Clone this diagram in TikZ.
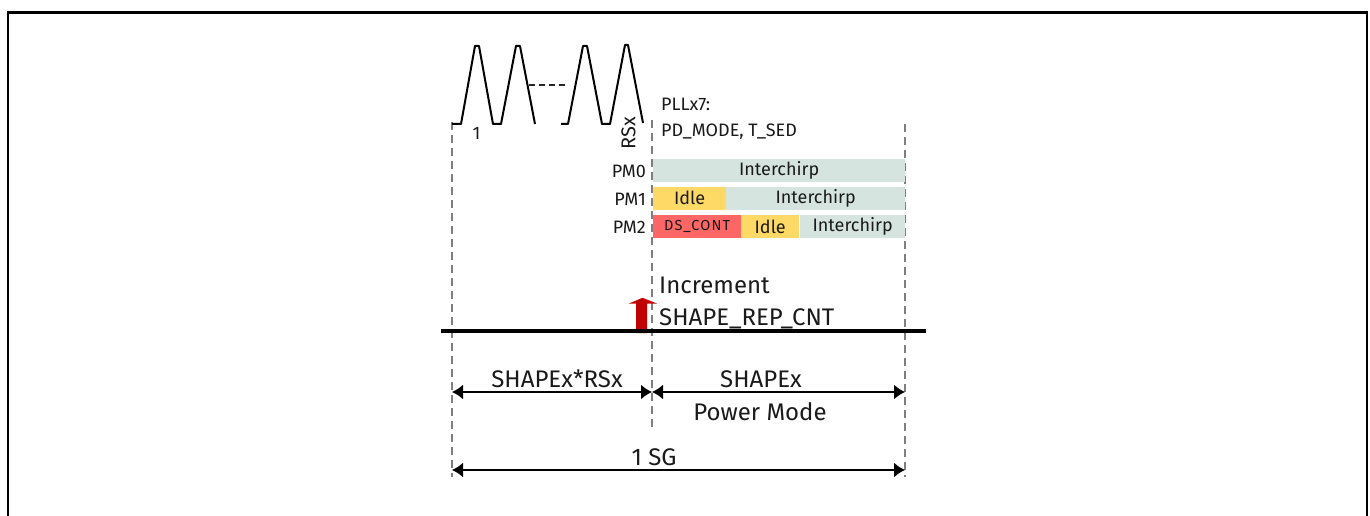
\documentclass[tikz,border=0pt]{standalone}
\usepackage{fontspec}
\setmainfont{Fira Sans}
\newfontfamily\dsfont[LetterSpace=8]{Fira Sans}
\usetikzlibrary{arrows.meta}
\definecolor{icol}{HTML}{D5E4DF}
\definecolor{idlecol}{HTML}{FFD966}
\definecolor{dscol}{HTML}{FF6666}
\definecolor{redarr}{HTML}{C00000}
\definecolor{dashgray}{HTML}{7F7F7F}
\definecolor{txt}{HTML}{1A1A1A}
\tikzset{
  guide/.style={draw=dashgray, line width=1.4pt, dash pattern=on 8pt off 5pt},
  chirp/.style={draw=black, line width=2pt, line join=round},
  bar/.style={inner sep=0pt, minimum height=23pt, anchor=west, text=txt,
    font=\fontsize{18}{20}\selectfont},
  pmlabel/.style={anchor=east, inner sep=0pt, text=txt, font=\fontsize{18}{20}\selectfont},
  smalltxt/.style={inner sep=0pt, text=txt, font=\fontsize{18}{20}\selectfont},
  bigtxt/.style={inner sep=0pt, text=txt, font=\fontsize{24}{26}\selectfont},
  dim/.style={draw=black, line width=1.8pt, {Latex[length=11pt,width=15pt]}-{Latex[length=11pt,width=15pt]}},
}
\begin{document}
\begin{tikzpicture}[x=1pt,y=-1pt]
\useasboundingbox (0,0) rectangle (1370,516);
% frame
\draw[line width=2.6pt] (8,516) -- (8,12.3) -- (1367,12.3) -- (1367,516);

% guide coordinates
\coordinate (gLt) at (452,122);
\coordinate (gLb) at (452,477);
\coordinate (gMt) at (652,120);
\coordinate (gMb) at (652,427);
\coordinate (gRt) at (905,124);
\coordinate (gRb) at (905,477);
\draw[guide] (gLt) -- (gLb);
\draw[guide] (gMt) -- (gMb);
\draw[guide] (gRt) -- (gRb);

% chirps
\draw[chirp] (452,124) -- (461,124) -- (475,46) -- (479,46) -- (493,124) -- (501,124) -- (516,46) -- (520,46) -- (535,124);
\draw[chirp] (561,124) -- (568,124) -- (583,46) -- (587,46) -- (602,124) -- (610,124) -- (625,45) -- (628,45) -- (643,123);
\draw[draw=black!85, line width=1.2pt, dash pattern=on 6pt off 4pt] (529,85) -- (568,85);
\node[smalltxt] (one) at (476.5,133.5) {1};
\node[smalltxt, rotate=90, font=\fontsize{20}{22}\selectfont] (rsx) at (628.5,133) {RSx};

% PLL text
\node[smalltxt, anchor=base west] (pll1) at (661,111) {PLLx7:};
\node[smalltxt, anchor=base west] (pll2) at (661,136) {PD\_MODE, T\_SED};

% power mode bars
\node[bar, fill=icol, minimum width=252pt] (pm0ic) at (653,170.5) {Interchirp};
\node[bar, fill=idlecol, minimum width=73pt] (pm1idle) at (653,198) {Idle};
\node[bar, fill=icol, minimum width=179pt] (pm1ic) at (726,198) {Interchirp};
\node[bar, fill=dscol, minimum width=88pt, font=\dsfont\fontsize{14.5}{16}\selectfont] (pm2ds) at (653,226.5) {DS\_CONT};
\node[bar, fill=idlecol, minimum width=58pt] (pm2idle) at (741,226.5) {Idle};
\node[bar, fill=icol, minimum width=105pt] (pm2ic) at (800,226.5) {Interchirp};
\node[pmlabel] (pm0) at (646,171.5) {PM0};
\node[pmlabel] (pm1) at (646,199.5) {PM1};
\node[pmlabel] (pm2) at (646,227.5) {PM2};

% red arrow and time line
\fill[redarr] (636,333) -- (636,303.5) -- (629,303.5) -- (642,298) -- (643,298) -- (657,303.5) -- (647,303.5) -- (647,333) -- cycle;
\coordinate (tl) at (441,331);
\coordinate (tr) at (926,331);
\draw[line width=4pt] (tl) -- (tr);
\node[bigtxt, anchor=base west] (inc1) at (659,293) {Increment};
\node[bigtxt, anchor=base west] (inc2) at (659,325) {SHAPE\_REP\_CNT};

% dimension arrows
\coordinate (a1l) at (452,392);
\coordinate (a1r) at (652,392);
\coordinate (a2r) at (905,392);
\coordinate (a3l) at (452,470);
\coordinate (a3r) at (905,470);
\draw[dim] (a1l) -- (a1r);
\draw[dim] (a1r) -- (a2r);
\draw[dim] (a3l) -- (a3r);
\node[bigtxt, anchor=base] (lab1) at (557,387) {SHAPEx*RSx};
\node[bigtxt, anchor=base] (lab2) at (761,387) {SHAPEx};
\node[bigtxt, anchor=base] (lab3) at (760,420) {Power Mode};
\node[bigtxt, anchor=base] (lab4) at (654,465) {1 SG};
\end{tikzpicture}
\end{document}
